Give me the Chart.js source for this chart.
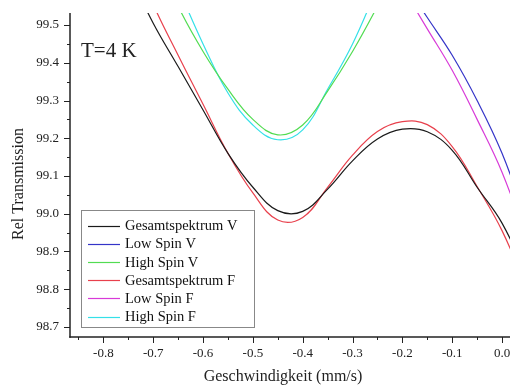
<!DOCTYPE html>
<html>
<head>
<meta charset="utf-8">
<script src="https://cdn.jsdelivr.net/npm/chart.js@4.4.0/dist/chart.umd.min.js"></script>
<style>
  html, body { margin: 0; padding: 0; background: #fff; }
  #wrap { width: 510px; height: 390px; }
</style>
</head>
<body>
<div id="wrap"><canvas id="spektrum" width="510" height="390"></canvas></div>
<script>
// Geschwindigkeit (mm/s) und Rel. Transmission (%) der Anpassungen bei T = 4 K
const xGesamt = [-0.75, -0.70, -0.65, -0.60, -0.55, -0.50, -0.45, -0.40, -0.35, -0.30, -0.25, -0.20, -0.15, -0.10, -0.05, 0.00, 0.05];
const gesamtV = [99.64, 99.505, 99.39, 99.275, 99.16, 99.07, 99.008, 99.006, 99.065, 99.14, 99.198, 99.224, 99.217, 99.168, 99.07, 98.975, 98.835];
const gesamtF = [99.72, 99.555, 99.42, 99.29, 99.16, 99.055, 98.983, 98.99, 99.07, 99.155, 99.218, 99.244, 99.236, 99.178, 99.072, 98.955, 98.80];

const xHighSpin = [-0.70, -0.65, -0.60, -0.55, -0.50, -0.45, -0.40, -0.35, -0.30, -0.25, -0.20];
const highSpinV = [99.70, 99.55, 99.43, 99.33, 99.25, 99.209, 99.235, 99.325, 99.43, 99.55, 99.68];
const highSpinF = [99.76, 99.60, 99.45, 99.32, 99.235, 99.196, 99.222, 99.33, 99.45, 99.60, 99.75];

const xLowSpin = [-0.25, -0.20, -0.15, -0.10, -0.05, 0.00, 0.05];
const lowSpinV = [99.72, 99.62, 99.52, 99.42, 99.30, 99.16, 98.98];
const lowSpinF = [99.71, 99.60, 99.49, 99.38, 99.25, 99.11, 98.93];

const xTicks = [-0.8, -0.7, -0.6, -0.5, -0.4, -0.3, -0.2, -0.1, 0.0];
const yTicks = [98.7, 98.8, 98.9, 99.0, 99.1, 99.2, 99.3, 99.4, 99.5];

const serif = "'Liberation Serif', 'DejaVu Serif', serif";

function punkte(xs, ys) {
  return xs.map((x, i) => ({ x: x, y: ys[i] }));
}

function kurve(label, xs, ys, farbe) {
  return {
    label: label,
    data: punkte(xs, ys),
    borderColor: farbe,
    backgroundColor: farbe,
    borderWidth: 1.2,
    pointRadius: 0,
    tension: 0.4,
    clip: 0
  };
}

// Achsenlinien, Haupt-/Nebenstriche, Titel, Beschriftung und Legende
const rahmenPlugin = {
  id: 'rahmen',
  afterDraw(chart) {
    const ctx = chart.ctx;
    const { left, right, top, bottom } = chart.chartArea;
    const xs = chart.scales.x;
    const ys = chart.scales.y;
    ctx.save();
    ctx.strokeStyle = '#222';
    ctx.lineWidth = 1;

    const strich = (x1, y1, x2, y2) => {
      ctx.beginPath();
      ctx.moveTo(x1, y1);
      ctx.lineTo(x2, y2);
      ctx.stroke();
    };

    const yStep = yTicks[1] - yTicks[0];
    yTicks.forEach(v => {
      const py = Math.round(ys.getPixelForValue(v)) + 0.5;
      strich(left - 6, py, left, py);
      [v - yStep / 2, v + yStep / 2].forEach(m => {
        if (m > ys.min && m < ys.max) {
          const pm = Math.round(ys.getPixelForValue(m)) + 0.5;
          strich(left - 3, pm, left, pm);
        }
      });
    });

    const xStep = xTicks[1] - xTicks[0];
    xTicks.forEach(v => {
      const px = Math.round(xs.getPixelForValue(v)) + 0.5;
      strich(px, bottom, px, bottom + 6);
      [v - xStep / 2, v + xStep / 2].forEach(m => {
        if (m > xs.min && m < xs.max) {
          const pm = Math.round(xs.getPixelForValue(m)) + 0.5;
          strich(pm, bottom, pm, bottom + 3);
        }
      });
    });

    ctx.lineWidth = 1.5;
    strich(left, top, left, bottom + 0.75);
    strich(left - 0.75, bottom, right, bottom);

    // Achsentitel
    ctx.fillStyle = '#222';
    ctx.font = '16px ' + serif;
    ctx.textAlign = 'center';
    ctx.textBaseline = 'middle';
    ctx.fillText('Geschwindigkeit (mm/s)', 283, 377);
    ctx.save();
    ctx.translate(19, 184);
    ctx.rotate(-Math.PI / 2);
    ctx.fillText('Rel Transmission', 0, 0);
    ctx.restore();

    // Temperatur
    ctx.font = '21px ' + serif;
    ctx.textAlign = 'left';
    ctx.fillText('T=4 K', 81, 51);

    // Legende
    const box = { x: 81.5, y: 210.5, w: 173, h: 117 };
    ctx.fillStyle = '#fff';
    ctx.fillRect(box.x, box.y, box.w, box.h);
    ctx.strokeStyle = '#888';
    ctx.lineWidth = 1;
    ctx.strokeRect(box.x, box.y, box.w, box.h);
    ctx.font = '14.5px ' + serif;
    ctx.textBaseline = 'middle';
    chart.data.datasets.forEach((ds, i) => {
      const y = 226 + i * 18.1;
      ctx.strokeStyle = ds.borderColor;
      ctx.lineWidth = 1.2;
      strich(88, Math.round(y) + 0.5, 120, Math.round(y) + 0.5);
      ctx.fillStyle = '#111';
      ctx.fillText(ds.label, 125, y + 0.5);
    });
    ctx.restore();
  }
};

const config = {
  type: 'line',
  data: {
    datasets: [
      kurve('Gesamtspektrum V', xGesamt, gesamtV, '#1a1a1a'),
      kurve('Low Spin V', xLowSpin, lowSpinV, '#3434c8'),
      kurve('High Spin V', xHighSpin, highSpinV, '#52dc52'),
      kurve('Gesamtspektrum F', xGesamt, gesamtF, '#e8404c'),
      kurve('Low Spin F', xLowSpin, lowSpinF, '#d83ad8'),
      kurve('High Spin F', xHighSpin, highSpinF, '#34e0e8')
    ]
  },
  options: {
    responsive: false,
    animation: false,
    devicePixelRatio: 1,
    layout: { padding: { top: 13, right: 0, bottom: 0, left: 0 } },
    plugins: {
      legend: { display: false },
      tooltip: { enabled: false }
    },
    scales: {
      x: {
        type: 'linear',
        min: -0.867,
        max: 0.016,
        afterBuildTicks: s => { s.ticks = xTicks.map(v => ({ value: v })); },
        afterFit: s => { s.height = 53; s.paddingLeft = 0; s.paddingRight = 0; },
        grid: { display: false, drawTicks: false },
        border: { display: false },
        ticks: {
          padding: 9,
          color: '#222',
          font: { family: serif, size: 13 },
          maxRotation: 0,
          callback: v => v.toFixed(1)
        }
      },
      y: {
        type: 'linear',
        min: 98.673,
        max: 99.532,
        afterBuildTicks: s => { s.ticks = yTicks.map(v => ({ value: v })); },
        afterFit: s => { s.width = 70; s.paddingTop = 0; s.paddingBottom = 0; },
        grid: { display: false, drawTicks: false },
        border: { display: false },
        ticks: {
          padding: 11,
          color: '#222',
          font: { family: serif, size: 13 },
          callback: v => v.toFixed(1)
        }
      }
    }
  },
  plugins: [rahmenPlugin]
};

new Chart(document.getElementById('spektrum').getContext('2d'), config);
</script>
</body>
</html>
